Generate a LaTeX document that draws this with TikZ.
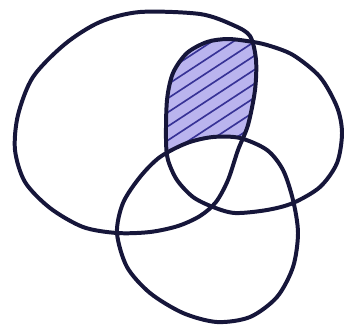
\documentclass[tikz,border=0pt]{standalone}
\usetikzlibrary{calc}
\tikzstyle{rim}=[draw={rgb,255:red,22;green,22;blue,58}, line width=3.4pt, line join=round]
\tikzstyle{tint}=[fill={rgb,255:red,186;green,180;blue,238}]
\tikzstyle{hatch}=[draw={rgb,255:red,55;green,50;blue,150}, line width=1.4pt]
\def\rimA{plot[smooth cycle] coordinates {(140,12) (200,14) (233,25) (250,36) (256,60) (255,90) (248,125) (238,150) (228,180) (216,202) (200,216) (178,226) (150,232) (117,233) (83,227) (50,208) (25,182) (15,150) (18,115) (33,77) (65,44) (100,22)}}
\def\rimB{plot[smooth cycle] coordinates {(167,100) (173,73) (187,53) (207,42) (227,39) (247,41) (267,45) (293,55) (320,77) (337,107) (342,133) (337,163) (320,187) (293,203) (267,210) (235,213) (213,207) (193,197) (177,180) (168,160) (166,140)}}
\def\rimC{plot[smooth cycle] coordinates {(240,138) (267,150) (283,170) (293,200) (298,233) (293,267) (277,297) (250,317) (217,322) (183,313) (150,293) (127,267) (117,233) (123,203) (140,177) (160,157) (187,143) (213,137)}}

\begin{document}
\begin{tikzpicture}[x=0.03cm,y=-0.03cm]
    \useasboundingbox (0,0) rectangle (347,325);
    % shaded part: in A and B, not in C
    \begin{scope}
        \clip \rimA;
        \clip \rimB;
        \begin{scope}[even odd rule]
            \clip (0,0) rectangle (347,325) \rimC;
            \fill[tint] (0,0) rectangle (347,325);
            \foreach \k in {0,...,15}
                \draw[hatch] (150,40+\k*14) -- ++(130,-85);
        \end{scope}
    \end{scope}
    \draw[rim] \rimA;
    \draw[rim] \rimB;
    \draw[rim] \rimC;
\end{tikzpicture}
\end{document}
